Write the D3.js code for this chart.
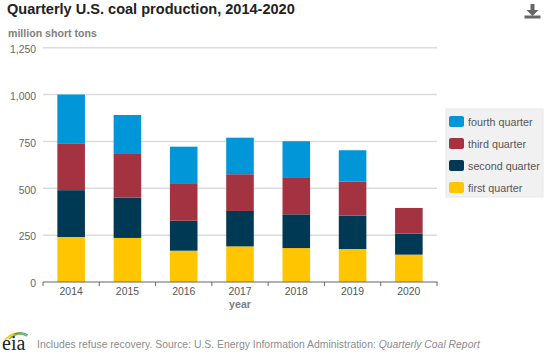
<!DOCTYPE html>
<html>
<head>
<meta charset="utf-8">
<script src="https://cdn.jsdelivr.net/npm/d3@7"></script>
<style>
  html, body { margin: 0; padding: 0; background: #fff; }
  svg { display: block; font-family: "Liberation Sans", Arial, sans-serif; }
</style>
</head>
<body>
<svg id="chart" width="546" height="358"></svg>
<script>
// values, million short tons
const years = ["2014", "2015", "2016", "2017", "2018", "2019", "2020"];
const firstQuarter = [240, 235, 167, 190, 181, 176, 146];
const secondQuarter = [250, 215, 160, 189, 180, 178, 112];
const thirdQuarter = [250, 233, 196, 196, 194, 181, 137];
const fourthQuarter = [260, 208, 199, 195, 196, 168, 0];
const yTicks = [0, 250, 500, 750, 1000, 1250];

const seriesNames = ["first quarter", "second quarter", "third quarter", "fourth quarter"];
const seriesValues = [firstQuarter, secondQuarter, thirdQuarter, fourthQuarter];
const seriesColors = ["#ffc600", "#003953", "#a33340", "#0096d7"];

const svg = d3.select("#chart");

const x = d3.scaleBand().domain(years).range([43, 437]).paddingInner(0.51).paddingOuter(0.255);
const y = d3.scaleLinear().domain([0, 1250]).range([282, 47.7]);

// title and unit
svg.append("text").attr("x", 7).attr("y", 14).attr("font-size", 14.55).attr("font-weight", "bold")
  .attr("fill", "#222").text("Quarterly U.S. coal production, 2014-2020");
svg.append("text").attr("x", 8).attr("y", 37).attr("font-size", 10.6).attr("font-weight", "bold")
  .attr("fill", "#808080").text("million short tons");

// gridlines
svg.append("g").selectAll("line").data(yTicks.filter(d => d > 0)).join("line")
  .attr("x1", 43).attr("x2", 437)
  .attr("y1", d => y(d)).attr("y2", d => y(d))
  .attr("stroke", "#dcdcdc").attr("stroke-width", 1.5);

// stacked bars
const rows = years.map((year, i) => {
  const row = { year };
  seriesNames.forEach((name, s) => { row[name] = seriesValues[s][i]; });
  return row;
});
const stacked = d3.stack().keys(seriesNames)(rows);

svg.append("g").selectAll("g").data(stacked).join("g")
  .attr("fill", (d, i) => seriesColors[i])
  .selectAll("rect").data(d => d.filter(p => p[1] > p[0])).join("rect")
  .attr("x", d => x(d.data.year))
  .attr("width", x.bandwidth())
  .attr("y", d => y(d[1]))
  .attr("height", d => y(d[0]) - y(d[1]));

// y axis
const yAxis = svg.append("g").attr("transform", "translate(43,1.5)")
  .call(d3.axisLeft(y).tickValues(yTicks).tickSize(0).tickPadding(7).tickFormat(d3.format(",")));
yAxis.select(".domain").remove();
yAxis.selectAll("text").attr("font-size", 10.4).attr("font-family", "inherit").attr("fill", "#666");

// x axis, ticks sit between the bars
const xAxis = svg.append("g");
xAxis.append("line").attr("x1", 43).attr("x2", 437.5).attr("y1", 282).attr("y2", 282)
  .attr("stroke", "#666").attr("stroke-width", 1);
const boundaries = years.map((d, i) => x(d) - x.step() * x.paddingInner() / 2).concat(437);
xAxis.selectAll(".tick-mark").data(boundaries).join("line")
  .attr("class", "tick-mark")
  .attr("x1", d => d).attr("x2", d => d)
  .attr("y1", 282).attr("y2", 286)
  .attr("stroke", "#666");
xAxis.selectAll(".year").data(years).join("text")
  .attr("class", "year")
  .attr("x", d => x(d) + x.bandwidth() / 2)
  .attr("y", 295)
  .attr("text-anchor", "middle").attr("font-size", 10.4).attr("fill", "#555")
  .text(d => d);
svg.append("text").attr("x", 240).attr("y", 308).attr("text-anchor", "middle")
  .attr("font-size", 10.6).attr("font-weight", "bold").attr("fill", "#808080").text("year");

// legend, reversed so fourth quarter is on top
const legendNames = seriesNames.slice().reverse();
const legendColors = seriesColors.slice().reverse();
svg.append("rect").attr("x", 446).attr("y", 109).attr("width", 97).attr("height", 88)
  .attr("fill", "#f1f1f1").attr("stroke", "#e8e8e8");
const legendRow = svg.append("g").selectAll("g").data(legendNames).join("g")
  .attr("transform", (d, i) => `translate(449,${116 + i * 22})`);
legendRow.append("rect").attr("width", 15).attr("height", 11).attr("rx", 2)
  .attr("fill", (d, i) => legendColors[i]);
legendRow.append("text").attr("x", 19).attr("y", 10).attr("font-size", 10.75)
  .attr("fill", "#555").text(d => d);

// download icon
const icon = svg.append("g").attr("fill", "#666");
icon.append("path").attr("d", "M530.5 4h4v6h4l-6 6l-6-6h4z");
icon.append("rect").attr("x", 524.5).attr("y", 15.5).attr("width", 16).attr("height", 3);

// eia logo
const logo = svg.append("g").attr("fill", "none");
logo.append("path").attr("d", "M5 340 Q12 332 22 333").attr("stroke", "#ffc600").attr("stroke-width", 1.8);
logo.append("path").attr("d", "M9 339 Q18 331 27 336").attr("stroke", "#7ab648").attr("stroke-width", 1.5);
logo.append("path").attr("d", "M14 334 Q22 331 28 335").attr("stroke", "#2a8fc4").attr("stroke-width", 1);
logo.append("text").attr("x", 2).attr("y", 350).attr("font-family", "Liberation Serif, serif")
  .attr("font-size", 20).attr("fill", "#222").attr("stroke", "none").text("eia");

// footnote
const note = svg.append("text").attr("x", 37).attr("y", 348).attr("font-size", 10.4).attr("fill", "#8c8c8c");
note.append("tspan").text("Includes refuse recovery. Source: U.S. Energy Information Administration: ");
note.append("tspan").attr("font-style", "italic").text("Quarterly Coal Report");
</script>
</body>
</html>
